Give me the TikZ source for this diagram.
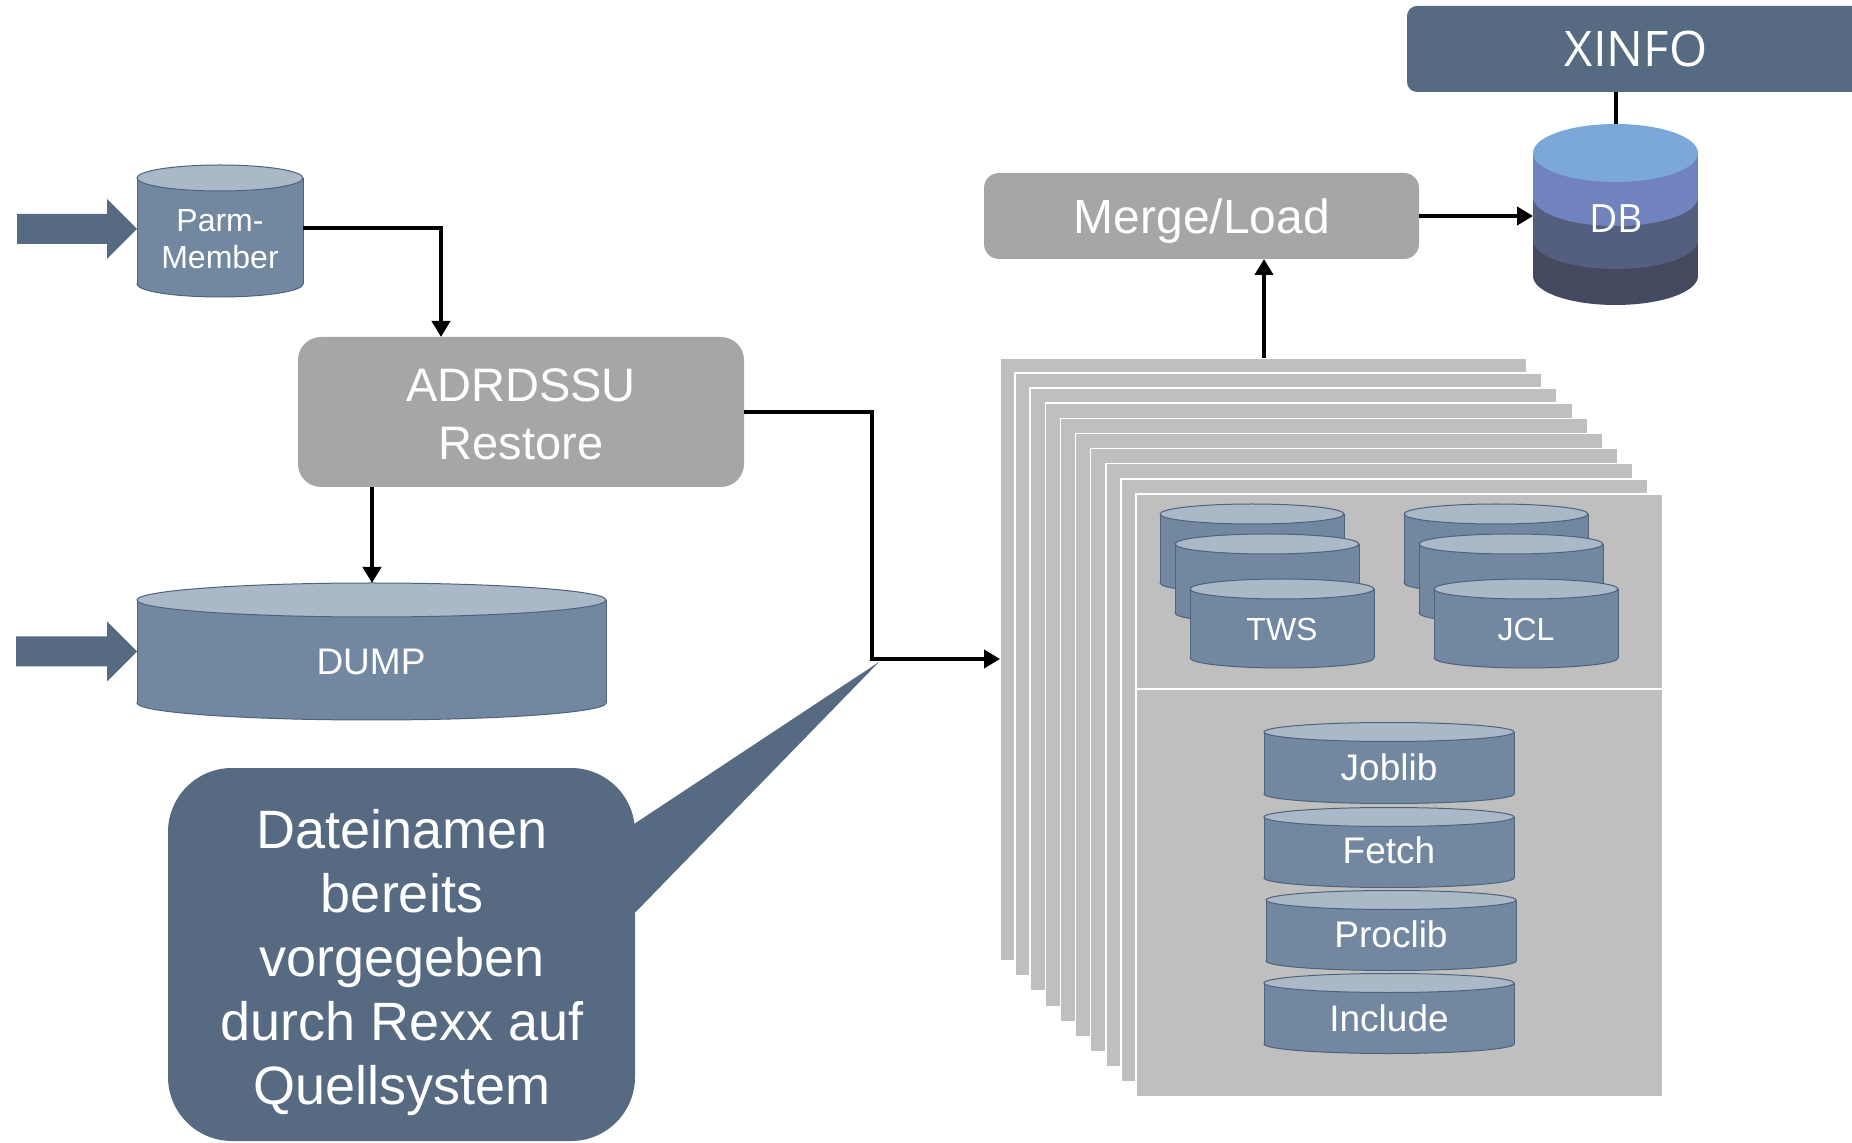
\documentclass[tikz,border=0pt]{standalone}
\usepackage{fontspec}
\setmainfont{Liberation Sans}
\newfontfamily\osans{Open Sans}
\usetikzlibrary{arrows.meta,calc}
\definecolor{slate}{RGB}{86,106,130}
\definecolor{cylbody}{RGB}{113,136,160}
\definecolor{cyltop}{RGB}{170,184,200}
\definecolor{cylline}{RGB}{78,98,124}
\definecolor{boxgray}{RGB}{166,166,166}
\definecolor{sheetgray}{RGB}{191,191,191}
\definecolor{dbtop}{RGB}{123,168,217}
\definecolor{dbone}{RGB}{113,131,190}
\definecolor{dbtwo}{RGB}{83,94,128}
\definecolor{dbthree}{RGB}{67,74,96}
% #1 cx, #2 top centre y, #3 bottom centre y, #4 half width, #5 y radius
\newcommand\mycyl[5]{%
  \fill[cylbody, draw=cylline, line width=0.5pt] (#1,#3) ellipse [x radius=#4, y radius=#5];
  \fill[cylbody] (#1-#4,#2) rectangle (#1+#4,#3);
  \draw[cylline, line width=0.5pt] (#1-#4,#2) -- (#1-#4,#3) (#1+#4,#2) -- (#1+#4,#3);
  \fill[cyltop, draw=cylline, line width=0.5pt] (#1,#2) ellipse [x radius=#4, y radius=#5];
}
\begin{document}
\begin{tikzpicture}[x=0.5pt,y=-0.5pt,
  conn/.style={line width=2pt, -{Triangle[length=8pt,width=9pt]}},
  plainline/.style={line width=2pt},
  geom/.style={inner sep=0pt, outer sep=0pt, draw=none},
  lbl/.style={text=white, inner sep=0pt, outer sep=0pt},
  graybox/.style={fill=boxgray, inner sep=0pt, outer sep=0pt},
  slatebox/.style={fill=slate, inner sep=0pt, outer sep=0pt},
  sheet/.style={fill=sheetgray, draw=white, line width=0.8pt, anchor=north west,
    minimum width=263.5pt, minimum height=301.5pt, inner sep=0pt, outer sep=0pt},
  bigarrow/.style={fill=slate}
]
\useasboundingbox (0,0) rectangle (1852,1143);
\clip (0,0) rectangle (1852,1143);

% ---------- XINFO and DB ----------
\node[slatebox, rounded corners=5pt, minimum width=229pt, minimum height=43pt] (xinfo) at (1636,49) {};
\node[lbl, anchor=base, font=\osans\fontsize{24.5}{29}\selectfont] (lxinfo) at (1636,67) {XINFO};

\fill[dbthree] (1615.5,276) ellipse [x radius=82.5, y radius=29];
\fill[dbthree] (1533,240) rectangle (1698,276);
\fill[dbtwo] (1615.5,240) ellipse [x radius=82.5, y radius=29];
\fill[dbtwo] (1533,197) rectangle (1698,240);
\fill[dbone] (1615.5,197) ellipse [x radius=82.5, y radius=29];
\fill[dbone] (1533,153) rectangle (1698,197);
\fill[dbtop] (1615.5,153) ellipse [x radius=82.5, y radius=29];
\node[geom, minimum width=82.5pt, minimum height=90.5pt] (db) at (1615.5,214.5) {};
\node[lbl, anchor=base, font=\osans\fontsize{19.5}{24}\selectfont] (ldb) at (1616,233) {DB};
\draw[plainline] (db.north) -- (db.north |- xinfo.south);

% ---------- Merge/Load ----------
\node[graybox, rounded corners=7.5pt, minimum width=217.5pt, minimum height=43pt] (merge) at (1201.5,216) {};
\node[lbl, anchor=base, font=\fontsize{24}{29}\selectfont] (lmerge) at (1202,234) {Merge/Load};
\draw[conn] (merge.east) -- (merge.east -| db.west);

% ---------- stack of sheets ----------
\foreach \i in {0,...,9} {
  \node[sheet] (s\i) at ({1000+15.1*\i},{358+15.1*\i}) {};
}
\draw[white, line width=1pt] (s9.west |- 0,689) -- (s9.east |- 0,689);
\coordinate (mx) at (1264,0);
\draw[conn] (s0.north -| mx) -- (merge.south -| mx);

% TWS group
\mycyl{1252}{514}{583}{92}{10}
\mycyl{1267}{544}{613}{92}{10}
\mycyl{1282}{589}{658}{92}{10}
\node[lbl, anchor=base, font=\fontsize{16}{19}\selectfont] (ltws) at (1282,641) {TWS};
% JCL group
\mycyl{1496}{514}{583}{92}{10}
\mycyl{1511}{544}{613}{92}{10}
\mycyl{1526}{589}{658}{92}{10}
\node[lbl, anchor=base, font=\fontsize{16}{19}\selectfont] (ljcl) at (1526,641) {JCL};

% libraries
\mycyl{1389}{732}{794}{125}{9.5}
\node[lbl, anchor=base, font=\fontsize{18.5}{22}\selectfont] (ljob) at (1389,780) {Joblib};
\mycyl{1389}{817}{878}{125}{9.5}
\node[lbl, anchor=base, font=\fontsize{18.5}{22}\selectfont] (lfetch) at (1389,863) {Fetch};
\mycyl{1391}{900}{961}{125}{9.5}
\node[lbl, anchor=base, font=\fontsize{18.5}{22}\selectfont] (lproc) at (1391,947) {Proclib};
\mycyl{1389}{983}{1044}{125}{9.5}
\node[lbl, anchor=base, font=\fontsize{18.5}{22}\selectfont] (lincl) at (1389,1031) {Include};

% ---------- Parm-Member ----------
\mycyl{220}{178}{284}{83}{13}
\node[geom, minimum width=83pt, minimum height=66pt] (parm) at (220,231) {};
\node[lbl, align=center, font=\fontsize{16}{18.5}\selectfont] (lparm) at (220,239) {Parm-\\Member};
\fill[bigarrow, shift={($(parm.west)+(0,-2)$)}] (-120,-15) -- (-30,-15) -- (-30,-30) -- (0,0) -- (-30,30) -- (-30,15) -- (-120,15) -- cycle;

% ---------- ADRDSSU ----------
\node[graybox, rounded corners=11.5pt, minimum width=223pt, minimum height=75pt] (adr) at (521,412) {};
\node[lbl, align=center, font=\fontsize{23.5}{29}\selectfont] (ladr) at (521,414) {ADRDSSU\\Restore};
\coordinate (c1) at (441,228);
\draw[conn] (parm.east |- c1) -| (adr.north -| c1);

% ---------- DUMP ----------
\mycyl{371.5}{600}{703}{234.5}{17}
\node[geom, minimum width=234.5pt, minimum height=68.5pt] (dump) at (371.5,651.5) {};
\node[lbl, anchor=base, font=\fontsize{18.5}{22}\selectfont] (ldump) at (371,675) {DUMP};
\fill[bigarrow, shift={(dump.west)}] (-121,-15) -- (-30,-15) -- (-30,-30) -- (0,0) -- (-30,30) -- (-30,15) -- (-121,15) -- cycle;
\coordinate (c2) at (372,0);
\draw[conn] (adr.south -| c2) -- (dump.north -| c2);

% ---------- ADRDSSU to stack ----------
\coordinate (c3) at (872,659);
\draw[conn] (adr.east) -| (c3) -- (c3 -| s0.west);

% ---------- callout ----------
\coordinate (tip) at (879,662);
\node[slatebox, rounded corners=32pt, minimum width=233.5pt, minimum height=186.5pt] (call) at (401.5,954.5) {};
\fill[slate] (call.east |- 0,830) ++(-10,0) -- (tip) -- ($(call.east |- 0,923)+(-10,0)$) -- cycle;
\node[lbl, align=center, font=\fontsize{27}{32}\selectfont] (lcall) at (402,963) {Dateinamen\\bereits\\vorgegeben\\durch Rexx auf\\Quellsystem};
\end{tikzpicture}
\end{document}
